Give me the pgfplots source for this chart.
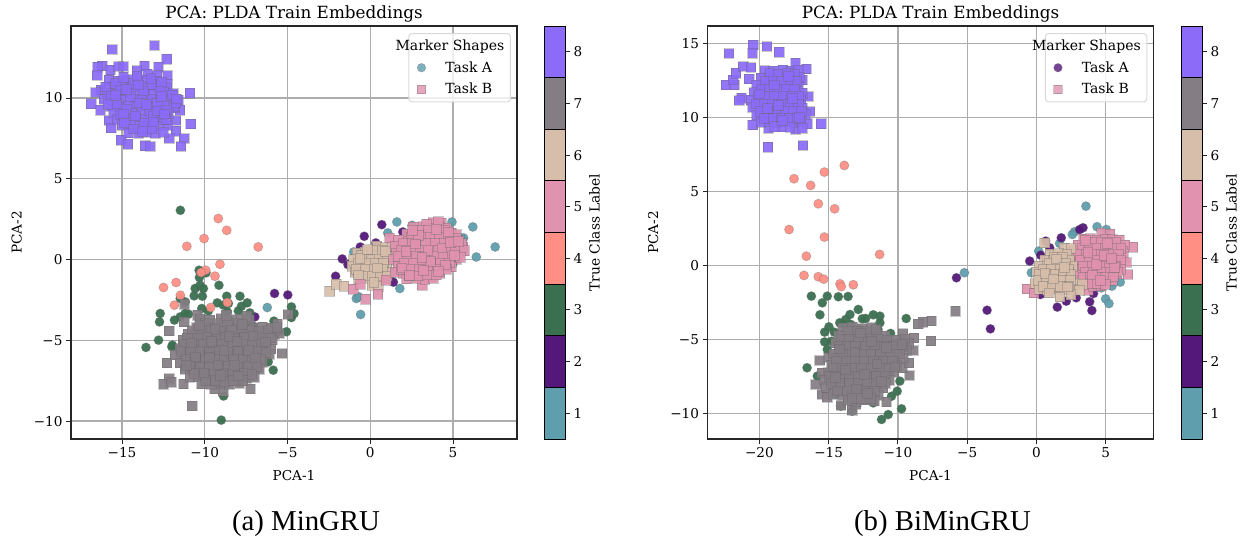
\documentclass[border=0pt]{standalone}
\usepackage{fontspec}
\setmainfont{DejaVu Serif}
\newfontfamily\capfont{Liberation Serif}
\usepackage{pgfplots}
\pgfplotsset{compat=1.18}
\definecolor{cA}{RGB}{95,158,172}
\definecolor{cB}{RGB}{84,24,122}
\definecolor{cC}{RGB}{58,112,80}
\definecolor{cD}{RGB}{255,143,133}
\definecolor{cE}{RGB}{224,146,174}
\definecolor{cF}{RGB}{215,190,170}
\definecolor{cG}{RGB}{133,125,132}
\definecolor{cH}{RGB}{139,107,247}
\pgfplotsset{
  ptc/.style={forget plot,only marks,mark=*,mark size=4.6pt,mark options={fill=#1,draw=black!60,draw opacity=.35,line width=.7pt,fill opacity=.95}},
  pts/.style={forget plot,only marks,mark=square*,mark size=4.85pt,mark options={fill=#1,draw=black!60,draw opacity=.35,line width=.7pt,fill opacity=.93}},
  lgc/.style={only marks,mark=*,mark size=4.3pt,mark options={fill=#1,draw=black!60,draw opacity=.35,line width=.6pt}},
  lgs/.style={only marks,mark=square*,mark size=4.3pt,mark options={fill=#1,draw=black!60,draw opacity=.35,line width=.6pt}},
  pcax/.style={scale only axis,width=446pt,height=413pt,
    grid=major,grid style={color=black!32,line width=1.2pt},
    axis line style={line width=1.1pt,color=black!85},
    tick style={line width=.9pt,color=black!85},
    major tick length=5pt,tick align=outside,xtick pos=bottom,ytick pos=left,
    tick label style={font=\fontsize{13.6}{15}\selectfont},
    label style={font=\fontsize{13.6}{15}\selectfont},
    title={PCA: PLDA Train Embeddings},
    title style={font=\fontsize{16.8}{18}\selectfont,yshift=-6pt},
    xlabel={PCA-1},ylabel={PCA-2},
    xlabel style={yshift=-6pt},ylabel style={yshift=5pt},
    legend cell align=left,
    legend style={at={(0.986,0.983)},anchor=north east,draw=black!15,line width=1pt,rounded corners=3pt,
      fill=white,fill opacity=.8,draw opacity=1,text opacity=1,font=\fontsize{14}{15}\selectfont,
      inner xsep=4pt,inner ysep=4.5pt,row sep=5.5pt},
  },
  cbar/.style={scale only axis,width=21pt,height=413pt,xmin=0,xmax=1,ymin=0.5,ymax=8.5,
    xtick=\empty,ytick={1,...,8},yticklabels={1,2,3,4,5,6,7,8},ytick pos=right,yticklabel pos=right,
    axis line style={line width=1pt,color=black},
    tick style={line width=.9pt,color=black!85},major tick length=5pt,tick align=outside,
    tick label style={font=\fontsize{13.6}{15}\selectfont},
    ylabel={True Class Label},ylabel near ticks,
    label style={font=\fontsize{13.8}{15}\selectfont},
    ylabel style={yshift=0pt},
  },
  seg/.style={forget plot,fill=#1,draw=black,line width=.9pt},
}
\begin{document}
\begin{tikzpicture}
\path[use as bounding box] (0,0) rectangle (1244pt,544pt);
% ---------- left panel
\begin{axis}[pcax,at={(71pt,105pt)},anchor=south west,
  xmin=-18.08,xmax=8.87,ymin=-11.11,ymax=14.46,
  xtick={-15,-10,-5,0,5},xticklabels={−15,−10,−5,0,5},
  ytick={-10,-5,0,5,10},yticklabels={−10,−5,0,5,10}]
\addlegendimage{empty legend}\addlegendentry{\hspace{-2.3em}Marker Shapes}
\addlegendimage{lgc=cA}\addlegendentry{\hspace{1.25em}Task A}
\addlegendimage{lgs=cE}\addlegendentry{\hspace{1.25em}Task B}
% Task A
\addplot[ptc=cA] coordinates {(1.61,2.33)(4.94,2.33)(6.2,2.02)(7.55,0.78)(6.41,0.16)(5.64,1.34)(2.53,2.12)(1.06,1.65)(-1.0,0.47)(1.79,-1.79)(-0.84,-2.41)(-0.58,-3.4)(-0.7,-2.3)(5.62,0.58)(4.98,-0.31)(4.58,-0.45)(-6.22,-2.97)};
\addplot[ptc=cB] coordinates {(0.7,2.16)(-0.36,1.44)(-0.6,0.78)(0.34,1.03)(-1.69,0.04)(-1.35,-0.31)(-2.09,-1.03)(1.97,1.71)(1.4,-1.4)(-5.78,-2.1)(-4.98,-2.19)(-6.97,-3.55)};
\addplot[ptc=cC] coordinates {(-11.47,3.05)(-9.0,-9.94)(-10.34,-0.66)(-9.92,-0.82)(-10.32,-1.11)(-10.28,-1.59)(-10.08,-1.79)(-10.58,-1.79)(-10.64,-2.25)(-10.14,-2.27)(-9.14,-1.59)(-8.67,-2.27)(-7.87,-2.27)(-7.43,-2.68)(-7.78,-2.89)(-7.97,-3.18)(-9.24,-2.68)(-8.88,-2.82)(-8.57,-2.72)(-8.63,-3.24)(-10.18,-3.03)(-9.78,-3.18)(-11.18,-2.62)(-11.48,-2.41)(-12.69,-3.34)(-12.73,-3.86)(-11.83,-3.75)(-11.48,-3.55)(-10.98,-3.38)(-11.18,-3.34)(-12.79,-4.99)(-13.55,-5.44)(-11.99,-5.40)(-11.95,-5.3)(-7.27,-3.3)(-7.07,-4.12)(-5.82,-3.81)(-4.76,-2.93)(-4.6,-3.34)(-4.76,-3.59)(-5.06,-4.47)(-5.56,-4.47)(-5.86,-6.85)(-6.16,-6.33)(-7.97,-7.57)(-8.86,-8.45)(-8.1,-7.4)};
\addplot[ptc=cD] coordinates {(-9.18,2.54)(-8.67,1.81)(-10.04,1.3)(-11.08,0.82)(-6.77,0.78)(-9.08,-0.29)(-9.94,-0.66)(-10.22,-0.8)(-9.38,-1.03)(-11.73,-1.42)(-12.49,-1.73)(-11.47,-2.21)(-11.83,-2.82)(-9.64,-2.97)(-8.63,-2.66)};
% Task B
\addplot[pts=cF] coordinates {(-2.45,-1.96)(-2.05,-1.53)(-1.59,-1.65)
(0.4,0.82)(0.9,0.75)(1.3,0.85)
(-0.8,0.4)(-0.3,0.45)(0.3,0.35)(0.8,0.45)(1.3,0.38)
(-1.0,0.0)(-0.5,0.05)(0.1,-0.05)(0.6,0.02)(1.1,-0.03)
(-1.1,-0.4)(-0.6,-0.36)(0,-0.44)(0.5,-0.38)(1.0,-0.42)
(-0.9,-0.8)(-0.4,-0.84)(0.2,-0.76)(0.7,-0.82)(1.2,-0.78)
(-0.7,-1.2)(-0.2,-1.15)(0.4,-1.24)(0.9,-1.18)
(0.1,-1.6)(0.5,-1.65)
(-0.55,0.25)(0.05,0.25)(0.55,0.2)(1.05,0.2)(-0.75,-0.2)(-0.25,-0.2)(0.3,-0.2)(0.8,-0.2)(-0.85,-0.6)(-0.3,-0.6)(0.25,-0.6)(0.75,-0.6)(-0.45,-1.0)(0.1,-1)(0.6,-1)(1.05,-1.0)(0.15,0.6)(0.7,0.6)
(-0.62,0.08)(0.42,-0.52)(-0.18,0.62)(0.92,0.52)(-0.7,-0.95)(0.22,-1.42)};
\addplot[pts=cE] coordinates {(-1.04,-1.84)(-0.58,-1.53)(-0.28,-2.45)(0.46,-2.14)(3.13,-1.59)(3.67,-1.03)(0.96,-1.28)(1.16,1.34)
(3.8,2.3)(4.3,2.28)
(2.6,2.0)(3.2,2.05)(3.7,1.95)(4.2,2.02)(4.6,1.96)
(2.2,1.6)(2.7,1.64)(3.3,1.56)(3.8,1.62)(4.4,1.58)(4.9,1.65)(5.2,1.55)
(1.7,1.2)(2.3,1.16)(2.8,1.24)(3.4,1.18)(3.9,1.22)(4.5,1.15)(5.0,1.24)(5.4,1.18)
(1.5,0.8)(2.0,0.84)(2.6,0.76)(3.1,0.82)(3.7,0.78)(4.2,0.85)(4.8,0.76)(5.3,0.82)(5.6,0.78)
(1.6,0.4)(2.2,0.36)(2.7,0.44)(3.3,0.38)(3.8,0.42)(4.4,0.35)(4.9,0.44)(5.4,0.38)
(1.4,0.0)(1.9,0.05)(2.5,-0.04)(3.0,0.03)(3.6,-0.03)(4.1,0.04)(4.7,-0.05)(5.2,0.02)
(1.7,-0.4)(2.2,-0.36)(2.8,-0.44)(3.3,-0.38)(3.9,-0.42)(4.4,-0.35)(4.9,-0.44)
(1.5,-0.8)(2.0,-0.84)(2.6,-0.76)(3.1,-0.82)(3.7,-0.78)(4.2,-0.85)
(2.2,-1.2)(2.8,-1.16)(3.3,-1.24)(3.8,-1.18)
(3.4,2.2)(4.1,2.35)(3,1.8)(3.5,1.8)(4,1.75)(4.5,1.8)(2.5,1.4)(3.05,1.4)(3.6,1.4)(4.15,1.4)(4.7,1.4)(5.2,1.35)(2.0,1.0)(2.55,1.0)(3.35,1.0)(3.9,1.0)(4.45,1.0)(5.05,0.95)(5.5,1.0)(1.85,0.6)(2.45,0.6)(3.0,0.6)(3.55,0.6)(4.1,0.6)(4.65,0.6)(5.15,0.6)(5.7,0.55)(1.7,0.2)(2.25,0.2)(2.8,0.2)(3.35,0.2)(3.85,0.2)(4.4,0.2)(4.95,0.2)(5.45,0.15)(2.05,-0.2)(2.6,-0.2)(3.15,-0.2)(3.7,-0.2)(4.25,-0.2)(4.8,-0.2)(1.85,-0.6)(2.4,-0.6)(2.95,-0.6)(3.5,-0.6)(4.05,-0.6)(4.6,-0.6)(2.35,-1)(2.9,-1)(3.45,-0.95)(4.0,-0.95)
(2.92,1.52)(4.32,0.72)(3.62,-0.12)(2.15,0.52)(4.85,1.08)(3.22,-0.68)(5.08,0.28)(2.72,0.98)(3.98,1.88)(1.92,-0.52)(4.55,-0.32)(3.48,0.58)(2.38,-0.98)(4.72,1.72)(3.12,0.12)(5.32,1.12)(2.55,1.82)(4.12,-0.72)};
\addplot[pts=cG] coordinates {(-11.22,-2.76)(-12.15,-4.41)(-11.24,-3.86)(-10.44,-3.44)(-4.96,-3.4)(-5.6,-4)(-5.34,-5.81)(-12.29,-6.39)(-12.15,-7.36)(-12.49,-7.71)(-12.03,-7.59)(-11.29,-7.69)(-10.76,-9.05)(-7.23,-8.0)(-7.27,-7.22)(-8.88,-8.14)(-9.4,-8.0)
(-10.3,-3.7)(-9.7,-3.75)(-9.0,-3.66)(-8.4,-3.72)(-7.8,-3.68)(-7.3,-3.75)
(-10.5,-4.2)(-10.0,-4.15)(-9.4,-4.24)(-8.8,-4.18)(-8.2,-4.22)(-7.6,-4.16)(-7.1,-4.25)(-6.5,-4.18)(-6.0,-4.22)
(-11.0,-4.6)(-10.5,-4.65)(-9.9,-4.56)(-9.3,-4.62)(-8.7,-4.58)(-8.1,-4.66)(-7.5,-4.56)(-7.0,-4.62)(-6.4,-4.58)(-5.8,-4.64)(-5.5,-4.58)
(-11.3,-5.0)(-10.7,-5.04)(-10.2,-4.96)(-9.6,-5.02)(-9.0,-4.98)(-8.5,-5.05)(-7.9,-4.95)(-7.3,-5.02)(-6.8,-4.97)(-6.2,-5.04)(-5.9,-4.98)
(-11.5,-5.5)(-11.0,-5.46)(-10.4,-5.54)(-9.8,-5.48)(-9.3,-5.52)(-8.7,-5.45)(-8.1,-5.54)(-7.6,-5.48)(-7.0,-5.52)(-6.5,-5.46)(-6.0,-5.53)
(-11.8,-5.9)(-11.2,-5.95)(-10.7,-5.86)(-10.1,-5.92)(-9.5,-5.88)(-9.0,-5.95)(-8.4,-5.86)(-7.8,-5.92)(-7.3,-5.88)(-6.7,-5.94)(-6.1,-5.88)
(-11.5,-6.4)(-10.9,-6.36)(-10.4,-6.44)(-9.8,-6.38)(-9.2,-6.42)(-8.7,-6.35)(-8.1,-6.44)(-7.5,-6.38)(-7.0,-6.42)(-6.5,-6.36)
(-11.2,-6.8)(-10.7,-6.84)(-10.1,-6.76)(-9.5,-6.82)(-9.0,-6.78)(-8.4,-6.85)(-7.8,-6.76)(-7.2,-6.82)(-6.7,-6.78)
(-10.9,-7.3)(-10.4,-7.26)(-9.8,-7.34)(-9.2,-7.28)(-8.7,-7.32)(-8.1,-7.26)(-7.5,-7.34)(-7.0,-7.28)
(-10.2,-7.7)(-9.6,-7.74)(-9.0,-7.66)(-8.5,-7.72)(-7.9,-7.68)
(-9.95,-3.95)(-9.25,-3.95)(-8.65,-3.9)(-8.0,-3.95)(-7.45,-3.5)(-8.7,-3.45)
(-10.75,-4.4)(-10.2,-4.45)(-9.6,-4.4)(-9.05,-4.45)(-8.4,-4.4)(-7.8,-4.45)(-7.25,-4.4)(-6.7,-4.45)(-6.15,-4.4)(-5.65,-4.2)
(-11.05,-4.85)(-10.45,-4.85)(-9.85,-4.8)(-9.25,-4.85)(-8.75,-4.8)(-8.2,-4.85)(-7.6,-4.8)(-7.1,-4.85)(-6.55,-4.85)(-6.05,-4.85)
(-11.25,-5.25)(-10.65,-5.3)(-10.1,-5.25)(-9.5,-5.3)(-8.95,-5.25)(-8.35,-5.3)(-7.7,-5.25)(-7.15,-5.3)(-6.6,-5.25)
(-11.45,-5.7)(-10.85,-5.75)(-10.3,-5.7)(-9.7,-5.75)(-9.15,-5.7)(-8.6,-5.75)(-8.0,-5.7)(-7.4,-5.75)(-6.85,-5.7)(-6.3,-5.75)
(-11.1,-6.2)(-10.55,-6.15)(-9.95,-6.2)(-9.4,-6.15)(-8.85,-6.2)(-8.25,-6.15)(-7.65,-6.2)(-7.15,-6.15)(-6.6,-6.2)
(-10.9,-6.6)(-10.3,-6.65)(-9.7,-6.6)(-9.15,-6.65)(-8.6,-6.6)(-8.0,-6.65)(-7.4,-6.6)(-6.85,-6.65)
(-10.65,-7.05)(-10,-7.05)(-9.45,-7.1)(-8.9,-7.05)(-8.3,-7.1)(-7.7,-7.05)(-7.15,-7.1)
(-9.95,-7.5)(-9.35,-7.5)(-8.8,-7.55)(-8.25,-7.5)(-7.7,-7.5)
(-10.8,-5.15)(-9.72,-6.05)(-8.55,-4.75)(-7.35,-5.62)(-9.05,-7.18)(-10.32,-4.08)(-6.92,-6.08)(-8.22,-6.55)(-9.62,-5.07)(-7.72,-4.02)(-11.12,-6.55)(-8.84,-5.6)(-6.35,-5.1)(-10.05,-7.02)(-7.95,-7.2)(-9.38,-4.32)(-10.55,-6.02)(-8.05,-5.08)(-7.1,-4.72)(-9.2,-6.52)};
\addplot[pts=cH] coordinates {(-15.6,13.0)(-13.03,13.26)(-12.3,12.4)(-16.2,12.0)(-16.47,11.9)(-16.5,11.4)(-15.7,11.75)(-15.2,11.96)(-14.9,11.96)(-13.63,12.0)(-12.8,11.9)(-14.1,11.7)(-13.45,11.5)(-12.9,11.4)(-12.25,11.4)(-12.25,10.85)(-10.9,10.3)(-16.27,10.5)(-16.6,10.35)(-16.87,9.65)(-16.3,9.25)(-15.8,8.6)(-15.65,8.15)(-11.75,8.6)(-10.85,8.4)(-11.75,7.95)(-11.25,7.5)(-12.15,7.5)(-11.45,7.0)(-15.05,7.4)(-14.65,7.15)(-13.6,7.05)(-13.3,7.0)(-12.25,8.3)(-11.5,9.25)(-11.8,9.4)
(-15.8,11.1)(-15.2,11.05)(-14.6,11.14)(-14.0,11.08)(-13.5,11.12)(-13.0,11.05)
(-15.5,10.7)(-15.0,10.74)(-14.4,10.66)(-13.9,10.72)(-13.3,10.68)(-12.8,10.75)(-12.3,10.66)
(-15.9,10.3)(-15.3,10.26)(-14.8,10.34)(-14.2,10.28)(-13.6,10.32)(-13.1,10.25)(-12.5,10.34)(-11.9,10.28)
(-16.1,9.9)(-15.5,9.95)(-15.0,9.86)(-14.3,9.92)(-13.8,9.88)(-13.2,9.95)(-12.7,9.86)(-12.1,9.92)(-11.6,9.88)
(-15.7,9.5)(-15.2,9.46)(-14.6,9.54)(-14.1,9.48)(-13.5,9.52)(-13.0,9.45)(-12.4,9.54)(-11.9,9.48)
(-15.5,9.1)(-14.9,9.15)(-14.4,9.06)(-13.8,9.12)(-13.3,9.08)(-12.7,9.15)(-12.2,9.06)
(-15.3,8.7)(-14.7,8.66)(-14.2,8.74)(-13.6,8.68)(-13.0,8.72)(-12.5,8.65)
(-15.0,8.3)(-14.5,8.34)(-13.9,8.26)(-13.4,8.32)(-12.8,8.28)
(-14.6,7.85)(-14.0,7.8)(-13.5,7.88)(-13.0,7.82)(-12.5,7.86)
(-15.4,10.9)(-14.9,11.3)(-14.3,10.9)(-13.7,10.45)(-13.2,10.85)(-12.7,10.45)(-15.1,10.5)(-14.5,10.1)(-13.95,9.7)(-13.35,9.25)(-12.85,9.7)(-12.3,9.25)(-11.75,9.7)(-15.65,10.1)(-15.35,9.65)(-14.75,9.3)(-14.2,8.9)(-13.65,8.45)(-13.1,8.85)(-12.55,8.95)(-15.1,8.95)(-14.85,8.5)(-14.3,8.1)(-13.75,7.95)(-13.2,8.1)(-12.9,9.2)(-12.35,8.7)(-16.0,10.7)(-15.85,9.6)(-14.1,11.35)(-13.25,11.2)(-12.6,11.0)(-11.95,10.2)(-11.7,9.95)
(-14.72,10.52)(-13.52,9.62)(-12.62,10.12)(-14.92,9.02)(-13.12,8.52)(-15.42,10.18)(-14.02,10.82)(-12.42,9.02)};
\end{axis}
\begin{axis}[cbar,at={(544pt,105pt)},anchor=south west]
\addplot[seg=cA] coordinates {(0,0.5)(1,0.5)(1,1.5)(0,1.5)} -- cycle;
\addplot[seg=cB] coordinates {(0,1.5)(1,1.5)(1,2.5)(0,2.5)} -- cycle;
\addplot[seg=cC] coordinates {(0,2.5)(1,2.5)(1,3.5)(0,3.5)} -- cycle;
\addplot[seg=cD] coordinates {(0,3.5)(1,3.5)(1,4.5)(0,4.5)} -- cycle;
\addplot[seg=cE] coordinates {(0,4.5)(1,4.5)(1,5.5)(0,5.5)} -- cycle;
\addplot[seg=cF] coordinates {(0,5.5)(1,5.5)(1,6.5)(0,6.5)} -- cycle;
\addplot[seg=cG] coordinates {(0,6.5)(1,6.5)(1,7.5)(0,7.5)} -- cycle;
\addplot[seg=cH] coordinates {(0,7.5)(1,7.5)(1,8.5)(0,8.5)} -- cycle;
\end{axis}
% ---------- right panel
\begin{axis}[pcax,at={(707.5pt,105pt)},anchor=south west,
  xmin=-23.75,xmax=8.46,ymin=-11.7,ymax=16.2,
  xtick={-20,-15,-10,-5,0,5},xticklabels={−20,−15,−10,−5,0,5},
  ytick={-10,-5,0,5,10,15},yticklabels={−10,−5,0,5,10,15}]
\addlegendimage{empty legend}\addlegendentry{\hspace{-2.3em}Marker Shapes}
\addlegendimage{lgc=cB}\addlegendentry{\hspace{1.25em}Task A}
\addlegendimage{lgs=cE}\addlegendentry{\hspace{1.25em}Task B}
\addplot[ptc=cA] coordinates {(3.58,4.03)(4.38,2.64)(5.05,2.45)(2.76,2.3)(2.6,2.12)(1.68,1.51)(0.17,0.99)(-0.36,-0.47)(6.06,-1.1)(5.46,-1.37)(5.0,-2.23)(5.24,-2.55)(4.69,-1.49)(-5.2,-0.47)};
\addplot[ptc=cB] coordinates {(3.37,2.57)(3.13,2.45)(1.8,1.89)(0.96,1.22)(0.31,0.72)(-0.48,0.32)(0.67,1.67)(1.51,-2.79)(2.16,-2.39)(2.88,-2.16)(3.85,-2.43)(4.01,-3.02)(4.13,-1.87)(0.29,-1.94)(-5.77,-0.81)(-3.56,-3.0)(-3.32,-4.26)};
\addplot[ptc=cC] coordinates {(-16.25,-2.05)(-15.1,-2.05)(-15.46,-2.5)(-14.3,-2.09)(-13.6,-2.07)(-15.63,-3.31)(-12.86,-2.95)(-13.46,-3.29)(-13.77,-3.63)(-14.2,-3.85)(-12.33,-3.56)(-11.78,-3.31)(-11.3,-3.4)(-11.3,-3.85)(-11.44,-4.3)(-10.53,-4.57)(-9.4,-3.56)(-14.98,-4.12)(-15.29,-4.48)(-14.6,-4.48)(-15.29,-5.14)(-15.1,-5.65)(-16.56,-6.89)(-15.82,-7.45)(-9.86,-7.79)(-10.05,-8.47)(-10.46,-8.81)(-9.74,-9.66)(-10.7,-10.05)(-11.18,-10.38)(-11.78,-9.26)(-14.13,-9.48)(-14.5,-8.69)(-13.3,-9.82)(-13.9,-3.96)(-13.4,-3.96)(-11.6,-4.41)(-12.57,-3.58)(-12.8,-4.3)(-14.8,-5.1)};
\addplot[ptc=cD] coordinates {(-13.87,6.78)(-15.31,6.33)(-17.5,5.88)(-16.3,5.43)(-15.75,4.19)(-14.57,3.85)(-17.86,2.45)(-15.31,1.94)(-16.61,0.65)(-11.32,0.77)(-16.78,-0.65)(-15.75,-0.74)(-15.36,-0.9)(-14.18,-1.22)(-14.09,-1.4)(-13.22,-1.28)};
\addplot[pts=cE] coordinates {(-0.67,-1.55)(-0.19,-1.82)(6.61,-0.59)(6.97,1.26)(3.77,-1.67)
(4.7,2.2)(5.3,2.15)
(3.4,1.8)(3.9,1.84)(4.4,1.76)(5,1.82)(5.5,1.78)(6,1.75)
(3.0,1.4)(3.6,1.36)(4.1,1.44)(4.7,1.38)(5.3,1.42)(5.8,1.35)(6.4,1.42)
(2.7,1.0)(3.3,1.04)(3.9,0.96)(4.4,1.02)(5,0.98)(5.6,1.05)(6.2,0.96)
(2.9,0.6)(3.5,0.56)(4.1,0.64)(4.7,0.58)(5.2,0.62)(5.8,0.55)(6.3,0.64)
(2.5,0.2)(3.1,0.24)(3.7,0.16)(4.3,0.22)(4.8,0.18)(5.4,0.25)(6.0,0.16)(6.5,0.22)
(3.2,-0.2)(3.8,-0.24)(4.4,-0.16)(5,-0.22)(5.5,-0.18)(6.1,-0.25)
(3.0,-0.6)(3.6,-0.56)(4.1,-0.64)(4.7,-0.58)(5.3,-0.62)(5.8,-0.55)
(3.3,-1.0)(3.9,-1.04)(4.4,-0.96)(5,-1.02)(5.5,-0.98)
(4.1,-1.4)(4.7,-1.36)
(3.65,1.6)(4.15,1.6)(4.7,1.6)(5.25,1.6)(5.75,1.6)(3.3,1.2)(3.85,1.2)(4.4,1.2)(5,1.2)(5.55,1.2)(6.1,1.2)(3.0,0.8)(3.6,0.8)(4.15,0.8)(4.7,0.8)(5.3,0.8)(5.9,0.8)(3.2,0.4)(3.8,0.4)(4.4,0.4)(4.95,0.4)(5.5,0.4)(6.05,0.4)(3.4,0)(4.05,0)(4.65,0)(5.25,0)(5.75,0)(3.5,-0.4)(4.1,-0.4)(4.7,-0.4)(5.3,-0.4)(5.85,-0.4)(3.35,-0.8)(3.9,-0.8)(4.45,-0.8)(5.0,-0.8)(5.55,-0.75)(3.9,-1.2)(4.4,-1.2)(5.0,-1.25)
(4.32,0.12)(5.12,1.52)(3.72,0.92)(5.62,-0.12)(4.02,-0.62)(4.88,0.72)(3.52,1.72)(5.42,0.52)(4.62,-0.98)};
\addplot[pts=cF] coordinates {(0.6,1.55)
(2.0,1.2)(2.5,1.16)
(1.0,0.8)(1.6,0.84)(2.2,0.76)
(0.6,0.4)(1.2,0.36)(1.8,0.44)(2.4,0.38)
(0.2,0)(0.8,0.05)(1.4,-0.04)(2.0,0.03)(2.6,-0.03)
(0,-0.4)(0.5,-0.36)(1.1,-0.44)(1.7,-0.38)(2.3,-0.42)
(0.4,-0.8)(1,-0.84)(1.6,-0.76)(2.2,-0.82)
(-0.1,-1.2)(0.4,-1.16)(0.9,-1.24)(1.5,-1.18)(2.1,-1.22)(2.7,-1.15)(3.3,-1.24)
(0.2,-1.6)(0.8,-1.64)(1.4,-1.56)(2,-1.62)(2.6,-1.58)(3.1,-1.65)
(1.7,-2.1)(2.5,-1.95)
(1.3,0.6)(1.9,0.6)(0.9,0.2)(1.5,0.2)(2.1,0.2)(0.5,-0.2)(1.1,-0.2)(1.7,-0.2)(2.3,-0.2)(0.2,-0.6)(0.75,-0.6)(1.35,-0.6)(1.95,-0.6)(2.5,-0.6)(0.15,-1.0)(0.7,-1.0)(1.25,-1.0)(1.85,-1.0)(2.45,-1.0)(0.5,-1.4)(1.15,-1.4)(1.75,-1.4)(2.35,-1.4)
(1.42,0.48)(0.62,-0.52)(2.02,-0.12)(1.22,-0.88)(2.22,-1.42)(0.92,-1.82)};
\addplot[pts=cG] coordinates {(-5.84,-3.06)(-7.57,-3.72)(-8.2,-3.81)(-8.53,-3.92)(-7.62,-5.07)(-8.85,-4.86)(-9.64,-4.57)(-10.82,-9.19)(-14.11,-9.44)(-13.3,-9.75)(-13.05,-9.37)(-9.16,-7.41)(-9.66,-6.89)(-9.2,-6.55)(-8.9,-5.72)(-15.94,-8.02)(-15.65,-6.4)(-15.46,-7.23)(-15.46,-8.69)(-15.1,-8.87)
(-14,-4.2)(-13.3,-4.15)(-12.6,-4.24)(-11.9,-4.18)
(-14.3,-4.7)(-13.6,-4.74)(-12.9,-4.66)(-12.2,-4.72)(-11.5,-4.68)(-10.9,-4.75)
(-14.5,-5.2)(-13.9,-5.16)(-13.2,-5.24)(-12.5,-5.18)(-11.8,-5.22)(-11.2,-5.15)(-10.5,-5.24)(-9.8,-5.18)(-9.2,-5.22)
(-14.0,-5.7)(-13.4,-5.74)(-12.7,-5.66)(-12.0,-5.72)(-11.3,-5.68)(-10.7,-5.75)(-10.0,-5.66)(-9.4,-5.72)
(-15.0,-6.2)(-14.3,-6.16)(-13.6,-6.24)(-13.0,-6.18)(-12.3,-6.22)(-11.6,-6.15)(-10.9,-6.24)(-10.2,-6.18)(-9.6,-6.22)
(-14.8,-6.7)(-14.1,-6.74)(-13.4,-6.66)(-12.8,-6.72)(-12.1,-6.68)(-11.4,-6.75)(-10.7,-6.66)(-10.1,-6.72)
(-15.0,-7.2)(-14.4,-7.16)(-13.7,-7.24)(-13.0,-7.18)(-12.3,-7.22)(-11.6,-7.15)(-11.0,-7.24)(-10.3,-7.18)
(-15.3,-7.7)(-14.6,-7.74)(-13.9,-7.66)(-13.2,-7.72)(-12.6,-7.68)(-11.9,-7.75)(-11.2,-7.66)(-10.6,-7.72)
(-15.2,-8.2)(-14.5,-8.16)(-13.8,-8.24)(-13.1,-8.18)(-12.4,-8.22)(-11.7,-8.15)(-11.1,-8.24)
(-14.7,-8.7)(-14.0,-8.74)(-13.3,-8.66)(-12.7,-8.72)(-12,-8.68)(-11.4,-8.75)
(-13.6,-9.1)(-13.0,-9.15)(-12.3,-9.06)(-11.7,-9.12)
(-13.65,-4.45)(-12.95,-4.4)(-12.25,-4.45)(-11.6,-4.3)(-14.1,-4.95)(-13.5,-4.95)(-12.85,-4.95)(-12.15,-4.95)(-11.45,-4.95)(-10.8,-5.0)(-10.15,-5.0)(-9.5,-4.95)(-14.25,-5.45)(-13.65,-5.45)(-13.05,-5.45)(-12.35,-5.45)(-11.65,-5.45)(-11.0,-5.45)(-10.35,-5.45)(-9.65,-5.45)(-14.65,-5.95)(-13.95,-5.95)(-13.3,-5.95)(-12.65,-5.95)(-11.95,-5.95)(-11.25,-5.95)(-10.55,-5.95)(-9.9,-5.95)(-14.45,-6.45)(-13.75,-6.45)(-13.1,-6.45)(-12.45,-6.45)(-11.75,-6.45)(-11.05,-6.45)(-10.4,-6.45)(-14.7,-6.95)(-14.05,-6.95)(-13.35,-6.95)(-12.65,-6.95)(-11.95,-6.95)(-11.3,-6.95)(-10.65,-6.95)(-14.95,-7.45)(-14.25,-7.45)(-13.55,-7.45)(-12.9,-7.45)(-12.25,-7.45)(-11.55,-7.45)(-10.95,-7.45)(-14.85,-7.95)(-14.2,-7.95)(-13.5,-7.95)(-12.85,-7.95)(-12.2,-7.95)(-11.55,-7.95)(-10.9,-7.95)(-14.35,-8.45)(-13.65,-8.45)(-13,-8.45)(-12.35,-8.45)(-11.7,-8.45)(-13.3,-8.95)(-12.65,-8.95)(-12,-8.95)
(-13.12,-5.82)(-11.52,-6.62)(-12.42,-7.32)(-14.22,-5.62)(-10.82,-5.52)(-12.72,-4.52)(-13.82,-7.02)(-11.22,-7.82)(-13.02,-8.32)(-10.22,-6.82)(-14.52,-7.52)(-11.92,-5.12)(-12.22,-8.62)(-9.72,-5.32)};
\addplot[pts=cH] coordinates {(-22.2,14.35)(-20.44,14.93)(-19.47,14.82)(-18.57,14.44)(-20.5,14.37)(-22.43,12.23)(-21.82,12.23)(-21.9,12.57)(-21.7,13.02)(-21.17,13.47)(-20.63,13.4)(-20.75,12.63)(-16.6,13.31)(-16.92,12.57)(-17.4,13.69)(-15.53,9.6)(-19.4,8.02)(-16.87,8.13)(-17.4,9.23)(-19.34,9.3)(-20.49,9.53)(-16.55,9.6)(-16.36,10.43)(-16.48,11.44)(-21.29,11.33)(-21.46,11.17)
(-19.6,13.2)(-19,13.15)(-18.3,13.24)(-17.7,13.18)(-17.2,13.22)
(-19.9,12.7)(-19.3,12.74)(-18.7,12.66)(-18.1,12.72)(-17.5,12.68)(-17.1,12.75)
(-20.2,12.2)(-19.6,12.16)(-19.0,12.24)(-18.4,12.18)(-17.8,12.22)(-17.2,12.15)
(-20.4,11.7)(-19.8,11.74)(-19.2,11.66)(-18.6,11.72)(-18.0,11.68)(-17.4,11.75)(-16.9,11.66)
(-20.6,11.2)(-20.0,11.16)(-19.4,11.24)(-18.8,11.18)(-18.1,11.22)(-17.5,11.15)(-17.0,11.24)
(-20.5,10.7)(-19.9,10.74)(-19.2,10.66)(-18.6,10.72)(-18.0,10.68)(-17.4,10.75)(-16.9,10.66)
(-20.2,10.2)(-19.6,10.16)(-19.0,10.24)(-18.4,10.18)(-17.8,10.22)(-17.2,10.15)(-16.7,10.24)
(-19.9,9.7)(-19.3,9.74)(-18.7,9.66)(-18.1,9.72)(-17.5,9.68)(-17.0,9.75)
(-19.25,13.0)(-18.65,12.95)(-18,13.0)(-17.45,12.95)(-19.6,12.45)(-19,12.5)(-18.4,12.45)(-17.8,12.5)(-17.3,12.45)(-19.9,11.95)(-19.3,11.95)(-18.7,11.95)(-18.05,11.95)(-17.5,11.95)(-20.1,11.45)(-19.5,11.45)(-18.9,11.45)(-18.3,11.45)(-17.7,11.45)(-17.15,11.45)(-20.25,10.95)(-19.65,10.95)(-19.05,10.95)(-18.4,10.95)(-17.75,10.95)(-17.2,10.95)(-19.95,10.45)(-19.35,10.45)(-18.75,10.45)(-18.15,10.45)(-17.55,10.45)(-16.95,10.45)(-19.65,9.95)(-19.0,9.95)(-18.45,9.95)(-17.85,9.95)(-17.25,9.95)(-18.4,9.4)(-17.8,9.35)(-18.9,9.4)(-16.9,9.3)
(-18.92,12.22)(-17.62,11.32)(-19.42,10.62)(-18.32,9.82)(-17.92,12.82)(-20.02,11.62)(-18.62,10.82)(-17.12,10.02)};
\end{axis}
\begin{axis}[cbar,at={(1181pt,105pt)},anchor=south west]
\addplot[seg=cA] coordinates {(0,0.5)(1,0.5)(1,1.5)(0,1.5)} -- cycle;
\addplot[seg=cB] coordinates {(0,1.5)(1,1.5)(1,2.5)(0,2.5)} -- cycle;
\addplot[seg=cC] coordinates {(0,2.5)(1,2.5)(1,3.5)(0,3.5)} -- cycle;
\addplot[seg=cD] coordinates {(0,3.5)(1,3.5)(1,4.5)(0,4.5)} -- cycle;
\addplot[seg=cE] coordinates {(0,4.5)(1,4.5)(1,5.5)(0,5.5)} -- cycle;
\addplot[seg=cF] coordinates {(0,5.5)(1,5.5)(1,6.5)(0,6.5)} -- cycle;
\addplot[seg=cG] coordinates {(0,6.5)(1,6.5)(1,7.5)(0,7.5)} -- cycle;
\addplot[seg=cH] coordinates {(0,7.5)(1,7.5)(1,8.5)(0,8.5)} -- cycle;
\end{axis}
\node[font=\capfont\fontsize{28.8}{32}\selectfont,text=black] at (306pt,20pt) {(a) MinGRU};
\node[font=\capfont\fontsize{28.8}{32}\selectfont,text=black] at (942.5pt,20pt) {(b) BiMinGRU};
\end{tikzpicture}
\end{document}
